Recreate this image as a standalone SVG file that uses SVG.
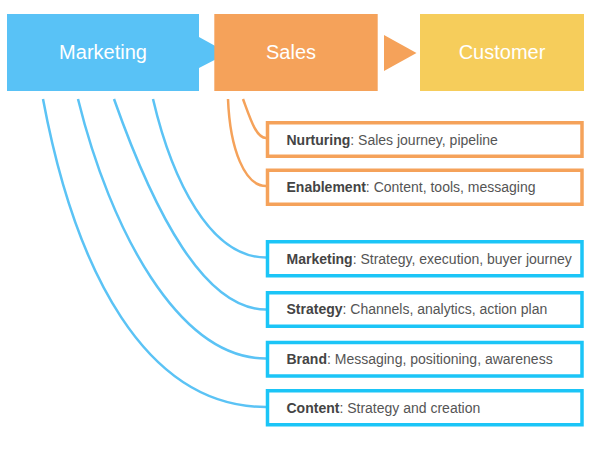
<svg xmlns="http://www.w3.org/2000/svg" width="600" height="451" viewBox="0 0 600 451">
<style>
.stage{font-family:"Liberation Sans",Arial,Helvetica,sans-serif;font-size:20px;fill:#ffffff;text-anchor:middle}
.lbl{font-family:"Liberation Sans",Arial,Helvetica,sans-serif;font-size:14px;fill:#555555}
.lbl tspan.b{font-weight:bold;fill:#444444}
.obox{fill:#ffffff;stroke:#F5A25A;stroke-width:3.5}
.bbox{fill:#ffffff;stroke:#1BC5F7;stroke-width:3.5}
.oc{fill:none;stroke:#F5A25A;stroke-width:2.5}
.bc{fill:none;stroke:#5BC3F5;stroke-width:2.5}
</style>
<rect width="600" height="451" fill="#ffffff"/>
<g id="connectors">
<path class="bc" d="M153,99 C172,180 210,257.5 266,257.5"/>
<path class="bc" d="M114,99 C155,215 205,309.5 266,309.5"/>
<path class="bc" d="M78,99 C110,229 178,358.5 266,358.5"/>
<path class="bc" d="M43,99 C75,270 145,407 266,407"/>
<path class="oc" d="M243,99 C250,118 256,138 266,138"/>
<path class="oc" d="M228,99 C230,150 245,186 266,186"/>
<polygon id="sales-arrow" points="384,35 416.5,53 384,71" fill="#F5A25A"/>
</g>
<g id="marketing-stage">
<polygon points="7,14 199,14 199,37 228,53 199,68 199,91 7,91" fill="#59C2F6"/>
<text class="stage" x="103" y="59">Marketing</text>
</g>
<g id="sales-stage">
<rect x="214.3" y="14" width="163.4" height="77" fill="#F5A25A"/>
<text class="stage" x="291" y="59">Sales</text>
</g>
<g id="customer-stage">
<rect x="420" y="14" width="164" height="77" fill="#F6CD5B"/>
<text class="stage" x="502" y="59">Customer</text>
</g>
<g id="nurturing">
<rect class="obox" x="267.5" y="122.75" width="314.5" height="33.5"/>
<text class="lbl" x="286.5" y="144.5"><tspan class="b">Nurturing</tspan>: Sales journey, pipeline</text>
</g>
<g id="enablement">
<rect class="obox" x="267.5" y="170.25" width="314.5" height="34"/>
<text class="lbl" x="286.5" y="192.3"><tspan class="b">Enablement</tspan>: Content, tools, messaging</text>
</g>
<g id="marketing-detail">
<rect class="bbox" x="267.5" y="241.75" width="314.5" height="34"/>
<text class="lbl" x="286.5" y="263.7"><tspan class="b">Marketing</tspan>: Strategy, execution, buyer journey</text>
</g>
<g id="strategy">
<rect class="bbox" x="267.5" y="292.75" width="314.5" height="33.5"/>
<text class="lbl" x="286.5" y="314.3"><tspan class="b">Strategy</tspan>: Channels, analytics, action plan</text>
</g>
<g id="brand">
<rect class="bbox" x="267.5" y="342.5" width="314.5" height="33.5"/>
<text class="lbl" x="286.5" y="364"><tspan class="b">Brand</tspan>: Messaging, positioning, awareness</text>
</g>
<g id="content">
<rect class="bbox" x="267.5" y="390.75" width="314.5" height="34"/>
<text class="lbl" x="286.5" y="412.5"><tspan class="b">Content</tspan>: Strategy and creation</text>
</g>
</svg>
